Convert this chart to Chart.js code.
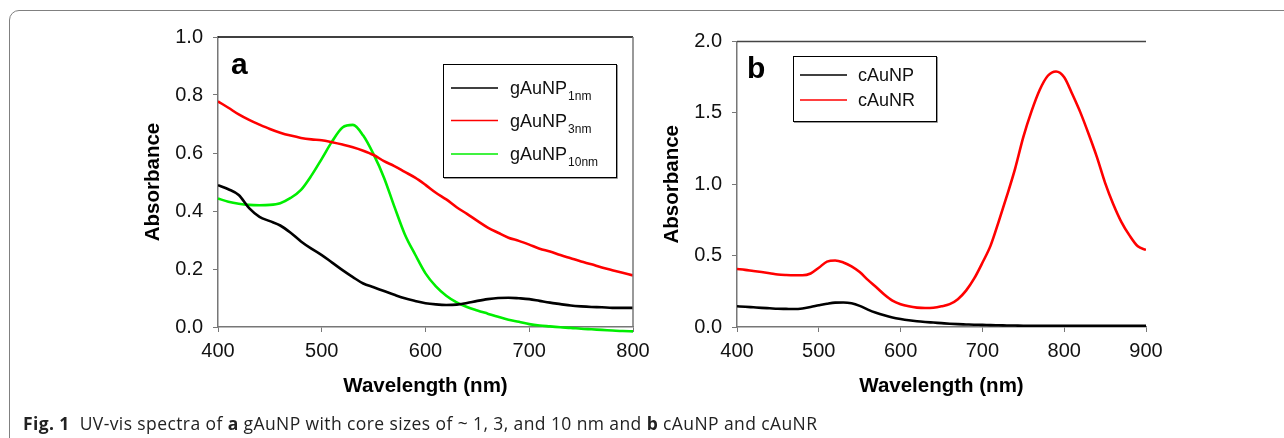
<!DOCTYPE html>
<html>
<head>
<meta charset="utf-8">
<script src="https://cdn.jsdelivr.net/npm/chart.js@4.4.0/dist/chart.umd.min.js"></script>
<style>
  body { margin: 0; background: #fff; }
  #wrap { position: relative; width: 1284px; height: 438px; overflow: hidden; background: #fff; }
  #frame { position: absolute; left: 9px; top: 10px; width: 1400px; height: 600px; border: 1.5px solid #808080; border-radius: 10px; }
  #chartA { position: absolute; left: 0; top: 0; }
  #chartB { position: absolute; left: 660px; top: 0; }
  #caption { position: absolute; left: 23px; top: 411px; font-family: "Open Sans", sans-serif; font-size: 17.5px; letter-spacing: 0.4px; color: #222; white-space: nowrap; }
</style>
</head>
<body>
<div id="wrap">
  <div id="frame"></div>
  <canvas id="chartA" width="660" height="438"></canvas>
  <canvas id="chartB" width="624" height="438"></canvas>
  <div id="caption"><b>Fig. 1</b>&nbsp; UV-vis spectra of <b>a</b> gAuNP with core sizes of ~ 1, 3, and 10 nm and <b>b</b> cAuNP and cAuNR</div>
</div>
<script>
// panel a: wavelength (nm) and absorbance
const wavelengthA = [400,410,420,430,440,450,460,470,480,490,500,510,520,530,540,550,560,570,580,590,600,
  610,620,630,640,650,660,670,680,690,700,710,720,730,740,750,760,770,780,790,800];
const gAuNP1nm = [0.489,0.475,0.455,0.410,0.380,0.365,0.350,0.325,0.295,0.270,0.248,0.222,0.196,0.172,0.150,
  0.137,0.124,0.111,0.099,0.090,0.082,0.078,0.076,0.077,0.083,0.090,0.096,0.100,0.101,0.099,0.096,
  0.090,0.084,0.079,0.074,0.071,0.069,0.068,0.066,0.066,0.066];
const gAuNP3nm = [0.778,0.756,0.733,0.714,0.698,0.683,0.670,0.660,0.652,0.647,0.644,0.637,0.629,0.620,0.608,
  0.593,0.572,0.555,0.535,0.515,0.490,0.463,0.440,0.413,0.390,0.366,0.343,0.325,0.308,0.297,0.284,
  0.270,0.260,0.248,0.237,0.226,0.216,0.205,0.196,0.187,0.178];
const gAuNP10nm = [0.443,0.432,0.425,0.421,0.420,0.421,0.427,0.445,0.473,0.522,0.580,0.640,0.688,0.697,0.660,
  0.595,0.515,0.415,0.320,0.250,0.185,0.140,0.108,0.085,0.069,0.057,0.046,0.035,0.025,0.018,0.010,
  0.005,0.002,-0.001,-0.003,-0.006,-0.008,-0.010,-0.012,-0.014,-0.015];
const labelsA = ['gAuNP', 'gAuNP', 'gAuNP'];
const subsA = ['1nm', '3nm', '10nm'];

// panel b
const wavelengthB = [400,410,420,430,440,450,460,470,480,490,500,510,520,530,540,550,560,570,580,590,600,
  610,620,630,640,650,660,670,680,690,700,710,720,730,740,750,760,770,780,790,800,
  810,820,830,840,850,860,870,880,890,900];
const cAuNP = [0.145,0.142,0.138,0.134,0.131,0.128,0.127,0.126,0.130,0.140,0.152,0.163,0.171,0.172,0.166,
  0.148,0.122,0.100,0.082,0.067,0.056,0.047,0.040,0.035,0.031,0.027,0.023,0.020,0.018,0.016,0.015,
  0.013,0.012,0.011,0.010,0.009,0.009,0.009,0.008,0.008,0.008,0.008,0.008,0.008,0.008,0.008,0.008,
  0.008,0.008,0.008,0.008];
const cAuNR = [0.406,0.400,0.392,0.385,0.377,0.368,0.364,0.362,0.362,0.375,0.415,0.458,0.466,0.452,0.425,
  0.385,0.330,0.280,0.228,0.185,0.160,0.145,0.136,0.133,0.135,0.145,0.160,0.195,0.255,0.340,0.450,
  0.570,0.740,0.920,1.110,1.330,1.510,1.660,1.760,1.790,1.750,1.630,1.500,1.350,1.190,1.010,0.860,
  0.735,0.640,0.565,0.540];
const labelsB = ['cAuNP', 'cAuNR'];

const FONT = '"Liberation Sans", Arial, sans-serif';

function pts(xs, ys) {
  return xs.map((x, i) => ({ x: x, y: ys[i] }));
}

const panelDecor = {
  id: 'panelDecor',
  afterDraw(chart, args, o) {
    const ctx = chart.ctx;
    const a = chart.chartArea;
    ctx.save();
    ctx.lineWidth = 1.3;
    ctx.strokeStyle = o.topColor;
    ctx.beginPath();
    ctx.moveTo(a.left, a.top);
    ctx.lineTo(a.right, a.top);
    ctx.stroke();
    if (o.rightBorder) {
      ctx.strokeStyle = '#777';
      ctx.lineWidth = 1.5;
      ctx.beginPath();
      ctx.moveTo(a.right, a.top);
      ctx.lineTo(a.right, a.bottom);
      ctx.stroke();
    }
    ctx.fillStyle = '#000';
    ctx.textBaseline = 'alphabetic';
    ctx.textAlign = 'left';
    ctx.font = 'bold 30px ' + FONT;
    ctx.fillText(o.letter, o.letterX, o.letterY);

    const L = o.legend;
    ctx.fillStyle = '#fff';
    ctx.fillRect(L.x, L.y, L.w, L.h);
    ctx.strokeStyle = '#999';
    ctx.lineWidth = 1;
    ctx.beginPath();
    ctx.moveTo(L.x + L.w + 1.5, L.y + 1);
    ctx.lineTo(L.x + L.w + 1.5, L.y + L.h + 1.5);
    ctx.lineTo(L.x + 1, L.y + L.h + 1.5);
    ctx.stroke();
    ctx.strokeStyle = '#000';
    ctx.strokeRect(L.x + 0.5, L.y + 0.5, L.w, L.h);
    chart.data.datasets.forEach((ds, i) => {
      const y = L.rows[i];
      ctx.strokeStyle = ds.borderColor;
      ctx.lineWidth = 1.5;
      ctx.beginPath();
      ctx.moveTo(L.lineX0, y);
      ctx.lineTo(L.lineX1, y);
      ctx.stroke();
      ctx.fillStyle = '#111';
      ctx.font = '18px ' + FONT;
      ctx.fillText(ds.label, L.textX, y + 6);
      if (o.subs) {
        const w = ctx.measureText(ds.label).width;
        ctx.font = '12px ' + FONT;
        ctx.fillText(o.subs[i], L.textX + w + 1, y + 12);
      }
    });
    ctx.restore();
  }
};

function axes(xmin, xmax, ymax, ystep, yWidth) {
  return {
    x: {
      type: 'linear', min: xmin, max: xmax,
      afterFit: (s) => { s.height = 72; },
      ticks: { stepSize: 100, padding: 7, color: '#111', font: { family: FONT, size: 20 } },
      grid: { drawOnChartArea: false, drawTicks: true, tickLength: 5, color: '#777' },
      border: { display: true, color: '#777', width: 1.5 },
      title: { display: true, text: 'Wavelength (nm)', color: '#000', padding: 0,
        font: { family: FONT, size: 20.5, weight: 'bold' } }
    },
    y: {
      min: 0, max: ymax,
      afterFit: (s) => { s.width = yWidth; },
      ticks: { stepSize: ystep, padding: 10, color: '#111', font: { family: FONT, size: 20 },
        callback: (v) => v.toFixed(1) },
      grid: { drawOnChartArea: false, drawTicks: true, tickLength: 5, color: '#777' },
      border: { display: true, color: '#777', width: 1.5 },
      title: { display: true, text: 'Absorbance', color: '#000', padding: 0,
        font: { family: FONT, size: 20.5, weight: 'bold' } }
    }
  };
}

function line(label, xs, ys, color, extra) {
  return Object.assign({
    label: label, data: pts(xs, ys), borderColor: color, backgroundColor: color,
    borderWidth: 2.6, pointRadius: 0, cubicInterpolationMode: 'monotone', fill: false
  }, extra || {});
}

new Chart(document.getElementById('chartA'), {
  type: 'line',
  data: {
    datasets: [
      line(labelsA[0], wavelengthA, gAuNP1nm, '#000000'),
      line(labelsA[1], wavelengthA, gAuNP3nm, '#ff0000'),
      line(labelsA[2], wavelengthA, gAuNP10nm, '#00ee00', { clip: false })
    ]
  },
  options: {
    responsive: false,
    devicePixelRatio: 1,
    animation: false,
    layout: { padding: { left: 141, top: 37, right: 27, bottom: 39 } },
    scales: axes(400, 800, 1.0, 0.2, 77),
    plugins: {
      legend: { display: false },
      tooltip: { enabled: false },
      panelDecor: {
        topColor: '#000', rightBorder: true, letter: 'a', letterX: 231, letterY: 73.5,
        subs: subsA,
        legend: { x: 443, y: 64, w: 173, h: 113, rows: [88, 120.5, 154], lineX0: 451, lineX1: 498, textX: 510 }
      }
    }
  },
  plugins: [panelDecor]
});

new Chart(document.getElementById('chartB'), {
  type: 'line',
  data: {
    datasets: [
      line(labelsB[0], wavelengthB, cAuNP, '#000000'),
      line(labelsB[1], wavelengthB, cAuNR, '#ff0000')
    ]
  },
  options: {
    responsive: false,
    devicePixelRatio: 1,
    animation: false,
    layout: { padding: { left: 0, top: 41.5, right: 138, bottom: 39 } },
    scales: axes(400, 900, 2.0, 0.5, 77),
    plugins: {
      legend: { display: false },
      tooltip: { enabled: false },
      panelDecor: {
        topColor: '#444', rightBorder: false, letter: 'b', letterX: 87, letterY: 78,
        legend: { x: 133, y: 56, w: 143, h: 65, rows: [75, 100], lineX0: 140, lineX1: 187, textX: 198 }
      }
    }
  },
  plugins: [panelDecor]
});
</script>
</body>
</html>
